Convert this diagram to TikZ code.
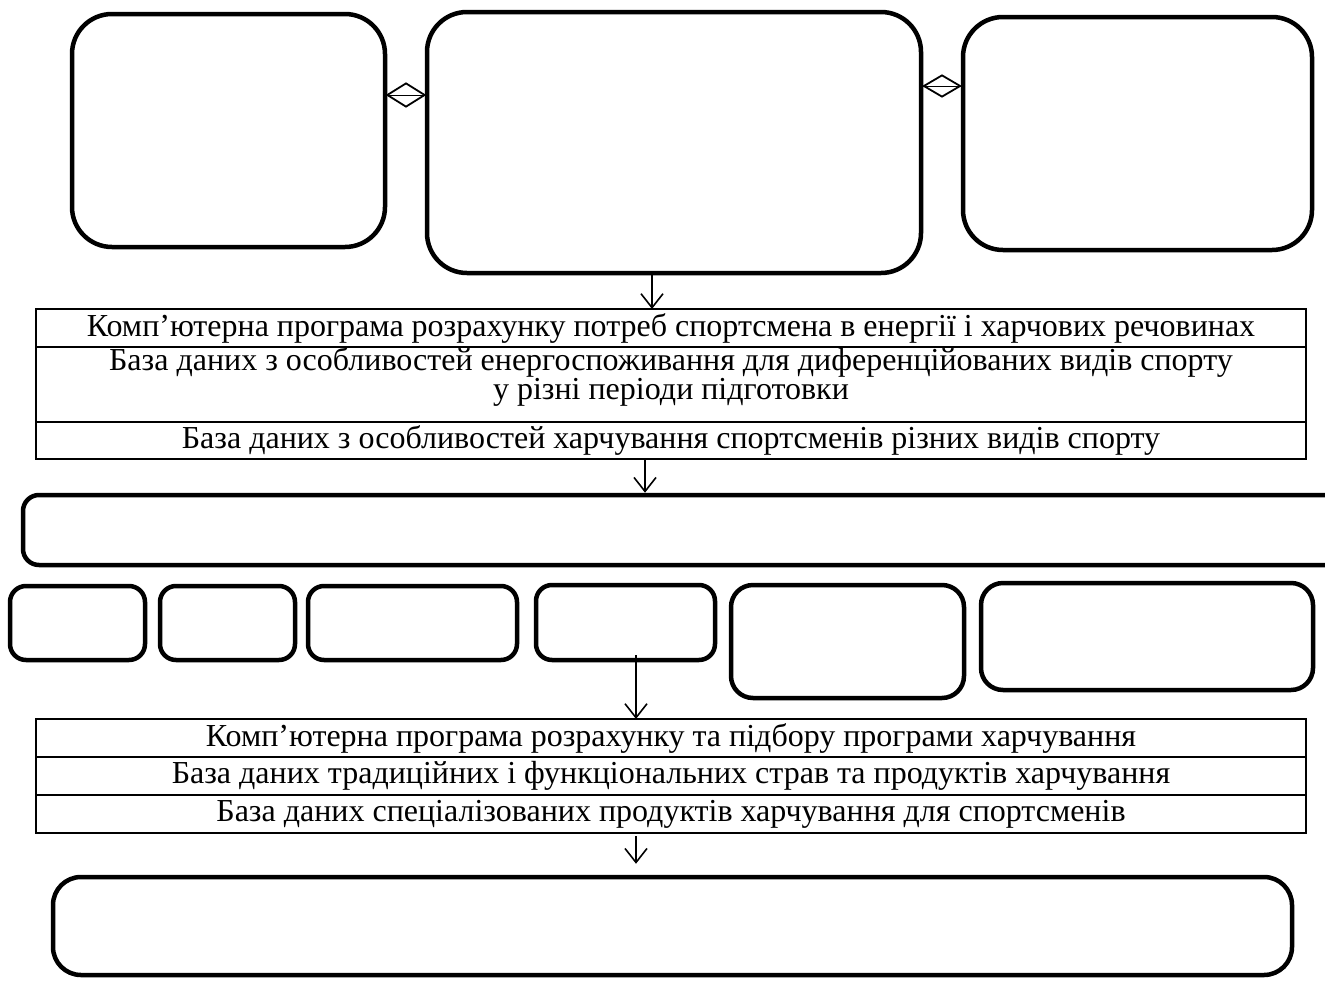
\documentclass[tikz,border=0pt]{standalone}
\usepackage{fontspec}
\setmainfont{Liberation Serif}
\usetikzlibrary{arrows.meta,shapes.geometric}
\begin{document}
\begin{tikzpicture}[x=1pt,y=-1pt,
  rbox/.style={draw,line width=4.5pt,rounded corners=#1,inner sep=0pt},
  rbox/.default=18pt,
  tfont/.style={font=\fontsize{32}{29}\selectfont},
  trow/.style={draw,line width=2pt,minimum width=1270pt,inner sep=0pt,outer sep=0pt,align=center,tfont},
  arr/.style={line width=1.6pt,-{Straight Barb[length=14pt,width=22pt,line width=1.6pt]}},
  dmd/.style={draw,diamond,line width=1.8pt,inner sep=0pt,fill=white}]
\useasboundingbox (0,0) rectangle (1325,980);
% top boxes
\node[rbox=40pt,minimum width=313pt,minimum height=233pt] (tl) at (228.5,130.5) {};
\node[rbox=40pt,minimum width=494pt,minimum height=261pt] (tm) at (674,142.5) {};
\node[rbox=40pt,minimum width=349pt,minimum height=233pt] (tr) at (1137.5,133.5) {};
% diamonds
\coordinate (d1) at (406,95);
\coordinate (d2) at (942,86);
\draw[line width=1pt] (tl.east |- d1) -- (tm.west |- d1);
\draw[line width=1pt] (tm.east |- d2) -- (tr.west |- d2);
\node[dmd,minimum width=38pt,minimum height=24pt] (dm1) at (d1) {};
\node[dmd,minimum width=37pt,minimum height=22pt] (dm2) at (d2) {};
\draw[line width=1pt] (dm1.west) -- (dm1.east);
\draw[line width=1pt] (dm2.west) -- (dm2.east);
% table 1
\node[trow,minimum height=38pt] (t1a) at (671,328) {Комп’ютерна програма розрахунку потреб спортсмена в енергії і харчових речовинах};
\node[trow,minimum height=75pt,anchor=north] (t1b) at (t1a.south) {};
\node[tfont,align=center,inner sep=0pt] (t1bt) at ([yshift=8pt]t1b.center) {База даних з особливостей енергоспоживання для диференційованих видів спорту\\у різні періоди підготовки};
\node[trow,minimum height=37pt,anchor=north] (t1c) at (t1b.south) {База даних з особливостей харчування спортсменів різних видів спорту};
% arrow 1
\coordinate (a1) at (652,0);
\draw[arr] (tm.south -| a1) -- (t1a.north -| a1);
% wide box
\node[rbox=16pt,minimum width=1322pt,minimum height=70pt] (wide) at (684,530) {};
\coordinate (a2) at (645,0);
\draw[arr] (t1c.south -| a2) -- (wide.north -| a2);
% small boxes
\node[rbox=16pt,minimum width=135pt,minimum height=74pt] (b1) at (77.5,623) {};
\node[rbox=16pt,minimum width=135pt,minimum height=74pt] (b2) at (227.5,623) {};
\node[rbox=16pt,minimum width=209pt,minimum height=74pt] (b3) at (412.5,623) {};
\node[rbox=16pt,minimum width=179pt,minimum height=75pt] (b4) at (625.5,622.5) {};
\node[rbox=22pt,minimum width=233pt,minimum height=113pt] (b5) at (847.5,641.5) {};
\node[rbox=22pt,minimum width=332pt,minimum height=107pt] (b6) at (1147,636.5) {};
% table 2
\node[trow,minimum height=38pt] (t2a) at (671,738) {Комп’ютерна програма розрахунку та підбору програми харчування};
\node[trow,minimum height=38pt,anchor=north] (t2b) at (t2a.south) {База даних традиційних і функціональних страв та продуктів харчування};
\node[trow,minimum height=38pt,anchor=north] (t2c) at (t2b.south) {База даних спеціалізованих продуктів харчування для спортсменів};
\coordinate (a3) at (636,655);
\draw[arr] (a3) -- (t2a.north -| a3);
% bottom box
\node[rbox=28pt,minimum width=1239pt,minimum height=98pt] (bot) at (672.5,926) {};
\coordinate (a4) at (636,0);
\draw[arr] ([yshift=-3pt]t2c.south -| a4) -- ([yshift=11pt]bot.north -| a4);
\end{tikzpicture}
\end{document}
